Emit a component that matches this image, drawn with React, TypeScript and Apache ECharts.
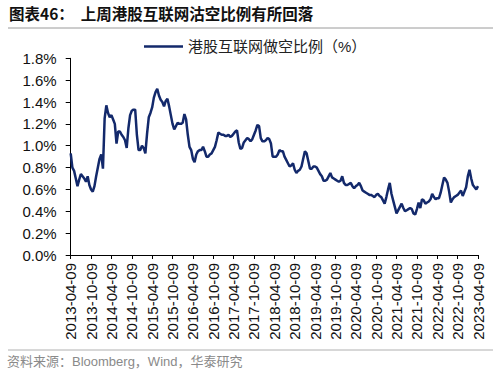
import React, { useEffect, useRef } from "react";
import * as echarts from "echarts";

const seriesName = "港股互联网做空比例（%）";
const titleText = "图表46：  上周港股互联网沽空比例有所回落";
const sourceText = "资料来源：Bloomberg，Wind，华泰研究";

// Semi-monthly readings (9th and 24th of each month), 2013-04-09 .. 2023-04-09, in %
const values2013 = [0.93, 0.80, 0.77, 0.70, 0.63, 0.69, 0.74, 0.72, 0.70, 0.67, 0.72, 0.64, 0.60, 0.58, 0.63, 0.72, 0.80, 0.88];
const values2014 = [0.92, 0.79, 1.25, 1.37, 1.30, 1.26, 1.28, 1.24, 1.20, 1.02, 1.13, 1.13, 1.10, 1.08, 1.05, 0.98, 1.16, 1.28, 1.32, 1.33, 1.33, 1.10, 0.96, 0.96];
const values2015 = [1.00, 0.98, 0.93, 1.11, 1.26, 1.30, 1.35, 1.44, 1.49, 1.52, 1.46, 1.42, 1.40, 1.36, 1.41, 1.43, 1.36, 1.28, 1.20, 1.15, 1.18, 1.21, 1.20, 1.20];
const values2016 = [1.21, 1.29, 1.24, 1.10, 0.99, 0.96, 0.88, 0.85, 0.92, 0.95, 0.96, 0.96, 0.99, 0.95, 0.90, 0.90, 0.92, 0.93, 0.96, 0.99, 1.05, 1.12, 1.11, 1.10];
const values2017 = [1.10, 1.09, 1.09, 1.10, 1.08, 1.09, 1.11, 1.13, 1.14, 1.03, 0.97, 0.98, 1.03, 1.05, 1.07, 1.06, 1.04, 1.06, 1.10, 1.14, 1.19, 1.18, 1.07, 1.04];
const values2018 = [1.04, 1.05, 1.07, 1.06, 1.02, 0.90, 0.90, 0.90, 0.92, 0.96, 0.95, 0.95, 0.90, 0.87, 0.84, 0.81, 0.82, 0.84, 0.78, 0.75, 0.77, 0.78, 0.81, 0.88];
const values2019 = [0.95, 0.93, 0.86, 0.79, 0.79, 0.81, 0.81, 0.80, 0.77, 0.74, 0.72, 0.68, 0.68, 0.69, 0.72, 0.75, 0.71, 0.70, 0.69, 0.68, 0.67, 0.68, 0.72, 0.66];
const values2020 = [0.64, 0.64, 0.65, 0.66, 0.63, 0.61, 0.63, 0.64, 0.66, 0.63, 0.59, 0.58, 0.57, 0.56, 0.55, 0.55, 0.54, 0.53, 0.55, 0.56, 0.54, 0.53, 0.50, 0.47];
const values2021 = [0.53, 0.60, 0.66, 0.56, 0.50, 0.44, 0.38, 0.41, 0.44, 0.47, 0.43, 0.40, 0.41, 0.42, 0.43, 0.42, 0.38, 0.37, 0.42, 0.48, 0.43, 0.51, 0.50, 0.47];
const values2022 = [0.48, 0.49, 0.51, 0.56, 0.53, 0.51, 0.52, 0.52, 0.57, 0.64, 0.71, 0.69, 0.66, 0.58, 0.48, 0.51, 0.53, 0.54, 0.55, 0.57, 0.59, 0.54, 0.58, 0.62];
const values2023 = [0.72, 0.78, 0.70, 0.64, 0.62, 0.60, 0.63];

const values = [
  ...values2013, ...values2014, ...values2015, ...values2016, ...values2017,
  ...values2018, ...values2019, ...values2020, ...values2021, ...values2022, ...values2023,
];

const pad = (n: number) => (n < 10 ? "0" + n : "" + n);
const categories = values.map((_, k) => {
  const mo = 3 + Math.floor(k / 2); // months since 2013-01, starting April
  const y = 2013 + Math.floor(mo / 12);
  const m = (mo % 12) + 1;
  const d = k % 2 === 0 ? 9 : 24;
  return `${y}-${pad(m)}-${pad(d)}`;
});

const yTicks = { min: 0, max: 1.8, interval: 0.2 };

export default function App() {
  const ref = useRef<HTMLDivElement>(null);
  useEffect(() => {
    if (!ref.current) return;
    const chart = echarts.init(ref.current, null, { renderer: "svg" });
    const latin = "'Liberation Sans', Arial, sans-serif";
    const cjk = "'Liberation Sans', 'Noto Sans CJK SC', sans-serif";
    chart.setOption({
      animation: false,
      backgroundColor: "#ffffff",
      grid: { left: 70.7, right: 22, top: 58.3, bottom: 122, containLabel: false },
      legend: {
        data: [seriesName],
        left: 139,
        top: 34,
        icon: "rect",
        itemWidth: 39,
        itemHeight: 2.5,
        itemGap: 10,
        textStyle: { fontSize: 15, color: "#222", fontFamily: cjk },
      },
      xAxis: {
        type: "category",
        data: categories,
        boundaryGap: false,
        axisLine: { lineStyle: { color: "#000", width: 1 } },
        axisTick: { show: true, interval: 11, length: 4, lineStyle: { color: "#000" } },
        axisLabel: {
          interval: 11,
          rotate: 90,
          margin: 8,
          fontSize: 15,
          color: "#111",
          fontFamily: latin,
          showMaxLabel: true,
        },
        splitLine: { show: false },
      },
      yAxis: {
        type: "value",
        min: yTicks.min,
        max: yTicks.max,
        interval: yTicks.interval,
        axisLine: { show: true, lineStyle: { color: "#000", width: 1 } },
        axisTick: { show: true, length: 5, lineStyle: { color: "#000" } },
        axisLabel: {
          formatter: (v: number) => v.toFixed(1) + "%",
          fontSize: 15,
          color: "#111",
          margin: 14,
          fontFamily: latin,
        },
        splitLine: { show: false },
      },
      series: [
        {
          name: seriesName,
          type: "line",
          data: values,
          showSymbol: false,
          symbol: "none",
          lineStyle: { color: "#13296b", width: 2.5 },
          itemStyle: { color: "#13296b" },
        },
      ],
      graphic: [
        {
          type: "text",
          left: 9,
          top: 5,
          style: {
            text: titleText,
            fontSize: 15.5,
            fontWeight: "bold",
            fill: "#111",
            fontFamily: "'Noto Sans CJK SC', sans-serif",
          },
        },
        {
          type: "line",
          shape: { x1: 8, y1: 28, x2: 493, y2: 28 },
          style: { stroke: "#9a9a9a", lineWidth: 1 },
        },
        {
          type: "line",
          shape: { x1: 8, y1: 350, x2: 493, y2: 350 },
          style: { stroke: "#b0b0b0", lineWidth: 1 },
        },
        {
          type: "text",
          left: 7,
          top: 355,
          style: {
            text: sourceText,
            fontSize: 13,
            fill: "#8a8a8a",
            fontFamily: cjk,
          },
        },
      ],
    });
    return () => chart.dispose();
  }, []);
  return <div ref={ref} style={{ width: 500, height: 377, position: "absolute", left: 0, top: 0 }} />;
}
